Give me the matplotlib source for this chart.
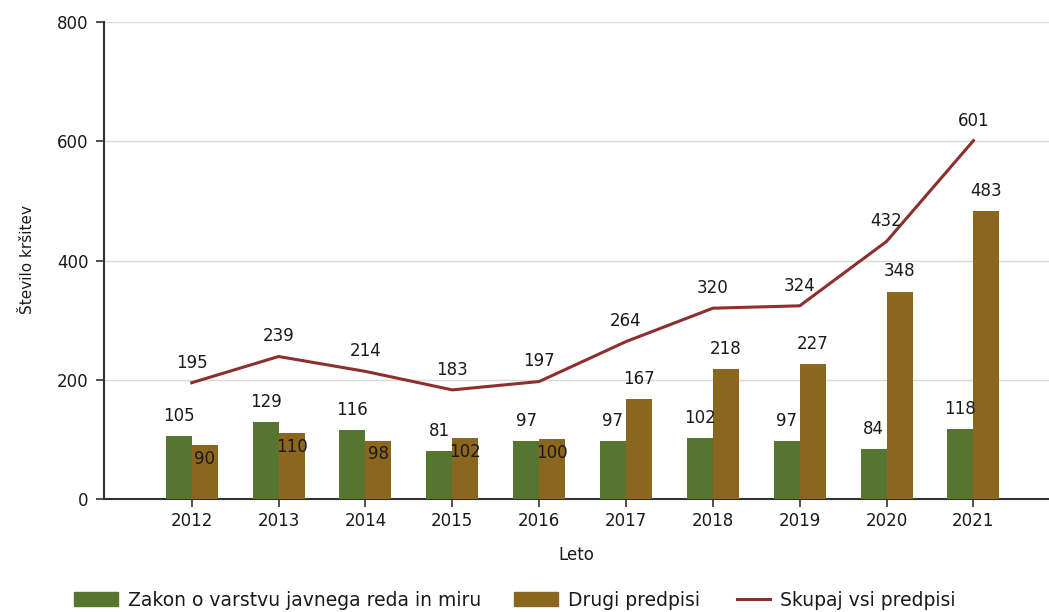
import matplotlib
matplotlib.use("Agg")
import matplotlib.pyplot as plt
import numpy as np
from matplotlib.patches import Patch
from matplotlib.lines import Line2D

years = ["2012", "2013", "2014", "2015", "2016", "2017", "2018", "2019", "2020", "2021"]
zakon = [105, 129, 116, 81, 97, 97, 102, 97, 84, 118]
drugi = [90, 110, 98, 102, 100, 167, 218, 227, 348, 483]
skupaj = [195, 239, 214, 183, 197, 264, 320, 324, 432, 601]

legend_labels = ["Zakon o varstvu javnega reda in miru", "Drugi predpisi", "Skupaj vsi predpisi"]

c_green = "#56762f"
c_brown = "#8b661e"
c_line = "#8b2f2f"
c_text = "#1a1a1a"

plt.rcParams['font.family'] = ['DejaVu Sans']

fig = plt.figure(figsize=(10.49, 6.12), dpi=100)
ax = fig.add_axes([104/1049, 1-499/612, 1-104/1049, (499-22)/612])

x = np.arange(len(years))
w = 0.3
ax.bar(x - w/2, zakon, width=w, color=c_green, zorder=3)
ax.bar(x + w/2, drugi, width=w, color=c_brown, zorder=3)
ax.plot(x, skupaj, color=c_line, lw=2.2, zorder=4)

fs = 12
for i in range(len(years)):
    ax.annotate(str(zakon[i]), (x[i] - w/2, zakon[i]), xytext=(0, 8), textcoords="offset points",
                ha="center", va="bottom", fontsize=fs, color=c_text, zorder=5)
    if abs(drugi[i] - zakon[i]) < 30:
        ax.annotate(str(drugi[i]), (x[i] + w/2, drugi[i]), xytext=(0, -10), textcoords="offset points",
                    ha="center", va="center", fontsize=fs, color=c_text, zorder=5)
    else:
        ax.annotate(str(drugi[i]), (x[i] + w/2, drugi[i]), xytext=(0, 8), textcoords="offset points",
                    ha="center", va="bottom", fontsize=fs, color=c_text, zorder=5)
    ax.annotate(str(skupaj[i]), (x[i], skupaj[i]), xytext=(0, 8), textcoords="offset points",
                ha="center", va="bottom", fontsize=fs, color=c_text, zorder=5)

ax.set_xlim(-1.01, 9.87)
ax.set_ylim(0, 800)
ax.set_yticks([0, 200, 400, 600, 800])
ax.set_xticks(x)
ax.set_xticklabels(years)
ax.tick_params(axis="both", labelsize=fs, colors="#333333", labelcolor=c_text, length=6, width=1.2)
ax.tick_params(axis="x", pad=3)
ax.tick_params(axis="y", pad=5)
ax.grid(axis="y", color="#d9d9d9", lw=1, zorder=0)
ax.set_axisbelow(True)
for s in ["top", "right"]:
    ax.spines[s].set_visible(False)
for s in ["left", "bottom"]:
    ax.spines[s].set_color("#333333")
    ax.spines[s].set_linewidth(1.5)

ax.set_xlabel("Leto", fontsize=fs, color=c_text, labelpad=12)
fig.text(28/1049, 1-260/612, "Število kršitev", rotation=90, ha="center", va="center",
         fontsize=11, color=c_text, family="DejaVu Sans Condensed")

lfs = 13.5
handles = [Patch(color=c_green), Patch(color=c_brown), Line2D([0], [0], color=c_line, lw=2.2)]
xs = [74, 514, 737]
hl = [2.35, 2.35, 1.76]
for h, lab, xx, l in zip(handles, legend_labels, xs, hl):
    fig.legend([h], [lab], loc="center left", bbox_to_anchor=(xx/1049, 12/612),
               frameon=False, fontsize=lfs, handlelength=l, handleheight=0.8,
               handletextpad=0.55, borderpad=0, borderaxespad=0, labelcolor=c_text)

fig.savefig("out.png", dpi=100)
